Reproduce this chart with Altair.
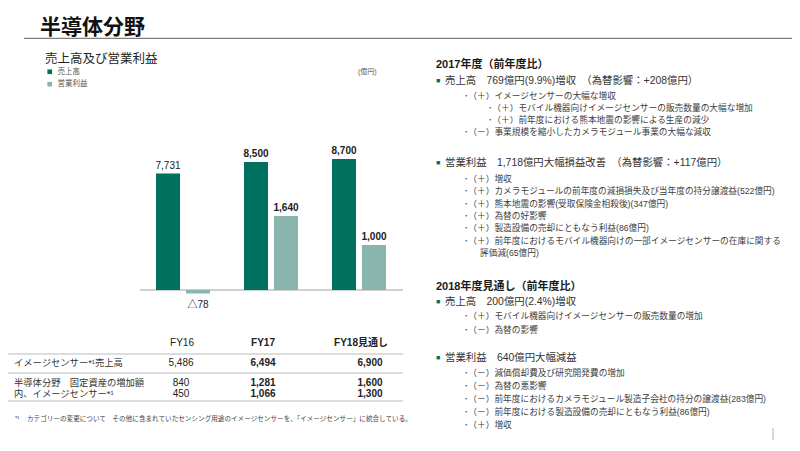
import altair as alt
import pandas as pd

# ---------------- data ----------------
YEARS = ["FY16", "FY17", "FY18"]
SERIES = ["売上高", "営業利益"]
SALES = [7731, 8500, 8700]
OP_INCOME = [-78, 1640, 1000]
SALES_LABELS = ["7,731", "8,500", "8,700"]
OP_LABELS = ["△78", "1,640", "1,000"]
EMPHASIS_YEARS = ["FY17", "FY18"]

TITLE = "半導体分野"
SUBTITLE = "売上高及び営業利益"
UNIT = "(億円)"

TABLE_HEADERS = ["FY16", "FY17", "FY18見通し"]
TABLE_ROWS = ["イメージセンサー*¹売上高", "半導体分野　固定資産の増加額", "内、イメージセンサー*¹"]
TABLE_FY16 = [5486, 840, 450]
TABLE_FY17 = [6494, 1281, 1066]
TABLE_FY18 = [6900, 1600, 1300]
FOOTNOTE_MARK = "*¹"
FOOTNOTE = "カテゴリーの変更について　その他に含まれていたセンシング用途のイメージセンサーを、「イメージセンサー」に統合している。"

RIGHT_LINES = [
    ("head", "2017年度（前年度比）"),
    ("bullet", "売上高　769億円(9.9%)増収　（為替影響：+208億円）"),
    ("sub1", "･（＋）イメージセンサーの大幅な増収"),
    ("sub2", "･（＋）モバイル機器向けイメージセンサーの販売数量の大幅な増加"),
    ("sub2", "･（＋）前年度における熊本地震の影響による生産の減少"),
    ("sub1", "･（－）事業規模を縮小したカメラモジュール事業の大幅な減収"),
    ("bullet", "営業利益　1,718億円大幅損益改善　（為替影響：+117億円）"),
    ("sub1", "･（＋）増収"),
    ("sub1", "･（＋）カメラモジュールの前年度の減損損失及び当年度の持分譲渡益(522億円)"),
    ("sub1", "･（＋）熊本地震の影響(受取保険金相殺後)(347億円)"),
    ("sub1", "･（＋）為替の好影響"),
    ("sub1", "･（＋）製造設備の売却にともなう利益(86億円)"),
    ("sub1", "･（＋）前年度におけるモバイル機器向けの一部イメージセンサーの在庫に関する"),
    ("cont", "評価減(65億円)"),
    ("head", "2018年度見通し（前年度比）"),
    ("bullet", "売上高　200億円(2.4%)増収"),
    ("sub1", "･（＋）モバイル機器向けイメージセンサーの販売数量の増加"),
    ("sub1", "･（－）為替の影響"),
    ("bullet", "営業利益　640億円大幅減益"),
    ("sub1", "･（－）減価償却費及び研究開発費の増加"),
    ("sub1", "･（－）為替の悪影響"),
    ("sub1", "･（－）前年度におけるカメラモジュール製造子会社の持分の譲渡益(283億円)"),
    ("sub1", "･（－）前年度における製造設備の売却にともなう利益(86億円)"),
    ("sub1", "･（＋）増収"),
]

# ---------------- layout / style ----------------
W, H = 784, 435
FONT = "Arial, 'Liberation Sans', 'Noto Sans CJK JP', sans-serif"
GREEN = "#00705F"
TEAL = "#8AB4AE"

RIGHT_Y = [57, 73, 88, 100, 112, 124, 155, 171, 183, 196, 208, 220, 233, 245,
           279, 294, 308, 322, 350, 365, 378, 391, 404, 417]
KIND_X = {"head": 428, "bullet": 437, "sub1": 456, "sub2": 480, "cont": 472}
KIND_STYLE = {"head": (11, "bold", "#1a1a1a"), "bullet": (10.4, "normal", "#333333"),
              "sub1": (8.7, "normal", "#404040"), "sub2": (8.7, "normal", "#404040"),
              "cont": (8.7, "normal", "#404040")}

TABLE_HEADER_Y = 335
TABLE_ROW_Y = [355, 375, 386]
TABLE_HEADER_X = [174, 255, 353]
TABLE_VALUE_X = [173, 255, 362]
TABLE_LABEL_X = 6
TABLE_LINES_Y = [346, 365, 393]

# ---------------- bar chart ----------------
bars_df = pd.DataFrame({
    "year": YEARS * 2,
    "series": [SERIES[0]] * len(YEARS) + [SERIES[1]] * len(YEARS),
    "value": SALES + OP_INCOME,
    "label": SALES_LABELS + OP_LABELS,
})
bars_df["emph"] = bars_df["year"].isin(EMPHASIS_YEARS)
sales_df = bars_df[bars_df["series"] == SERIES[0]]
op_df = bars_df[bars_df["series"] == SERIES[1]]


def xscale(rng):
    return alt.Scale(type="band", domain=YEARS, range=rng, paddingInner=0.727, paddingOuter=0)


SALES_X = xscale([148, 348])
OP_X = xscale([178, 378])
SALES_Y = alt.Scale(domain=[0, 10000], range=[282, 131.4], nice=False, zero=False)
OP_Y = alt.Scale(domain=[0, 2000], range=[282, 191.8], nice=False, zero=False)
COLOR = alt.Scale(domain=SERIES, range=[GREEN, TEAL])

legend = alt.Legend(orient="none", legendX=38, legendY=60, title=None, symbolType="square",
                    symbolSize=22, symbolStrokeWidth=0, labelFontSize=7.5, labelColor="#555555",
                    labelFont=FONT, rowPadding=3.5, labelOffset=4, padding=0)

baseline = alt.Chart(pd.DataFrame({"v": [0]})).mark_rule(color="#BFBFBF", strokeWidth=1.3).encode(
    y=alt.Y("v:Q", scale=SALES_Y, axis=None), x=alt.value(132), x2=alt.value(395))

sales_bars = alt.Chart(sales_df).mark_bar().encode(
    x=alt.X("year:N", scale=SALES_X, axis=None),
    y=alt.Y("value:Q", scale=SALES_Y, axis=None),
    color=alt.Color("series:N", scale=COLOR, legend=legend),
)
op_bars = alt.Chart(op_df).mark_bar().encode(
    x=alt.X("year:N", scale=OP_X, axis=None),
    y=alt.Y("value:Q", scale=OP_Y, axis=None),
    color=alt.Color("series:N", scale=COLOR, legend=None),
)


def value_labels(df, xs, ys):
    out = []
    for emph, weight in [(True, "bold"), (False, "normal")]:
        for below in [False, True]:
            cond = ("datum.emph" if emph else "!datum.emph") + (
                " && datum.value < 0" if below else " && datum.value >= 0")
            out.append(alt.Chart(df).transform_filter(cond).mark_text(
                font=FONT, fontSize=10, fontWeight=weight, color="#222222",
                baseline="top" if below else "alphabetic", dy=6 if below else -5,
            ).encode(x=alt.X("year:N", scale=xs, axis=None),
                     y=alt.Y("value:Q", scale=ys, axis=None),
                     text="label:N"))
    return out


# ---------------- text items ----------------
items = []


def add(text, x, y, size, weight="normal", align="left", color="#333333"):
    items.append(dict(text=text, x=x, y=y, size=size, weight=weight, align=align, color=color))


add(TITLE, 32, 20, 21, "bold", "left", "#111111")
add(SUBTITLE, 37, 51, 12.5, "normal", "left", "#222222")
add(UNIT, 350, 64, 7, "normal", "left", "#555555")

for i, h in enumerate(TABLE_HEADERS):
    add(h, TABLE_HEADER_X[i], TABLE_HEADER_Y, 10, "bold" if i > 0 else "normal", "center", "#222222")
for r, lab in enumerate(TABLE_ROWS):
    add(lab, TABLE_LABEL_X, TABLE_ROW_Y[r], 9.3, "normal", "left", "#333333")
    for c, col in enumerate([TABLE_FY16, TABLE_FY17, TABLE_FY18]):
        add(f"{col[r]:,}", TABLE_VALUE_X[c], TABLE_ROW_Y[r], 10,
            "bold" if c > 0 else "normal", "center", "#222222")
add(FOOTNOTE_MARK, 7, 410, 6, "normal", "left", "#444444")
add(FOOTNOTE, 19, 411, 6.6, "normal", "left", "#444444")

for (kind, text), y in zip(RIGHT_LINES, RIGHT_Y):
    size, weight, color = KIND_STYLE[kind]
    add(text, KIND_X[kind], y, size, weight, "left", color)
    if kind == "bullet":
        add("■", KIND_X["head"], y, 7, "normal", "left", GREEN)

items_df = pd.DataFrame(items)
text_layers = []
for (weight, align, color), g in items_df.groupby(["weight", "align", "color"]):
    text_layers.append(alt.Chart(g).mark_text(
        font=FONT, fontWeight=weight, align=align, baseline="middle", color=color
    ).encode(x=alt.X("x:Q", scale=None), y=alt.Y("y:Q", scale=None),
             size=alt.Size("size:Q", scale=None, legend=None), text="text:N"))

# ---------------- rules ----------------
rules_df = pd.DataFrame({
    "y": [30.3] + TABLE_LINES_Y,
    "x1": [16] + [0] * len(TABLE_LINES_Y),
    "x2": [784] + [395] * len(TABLE_LINES_Y),
    "c": ["#808080"] + ["#BBBBBB"] * len(TABLE_LINES_Y),
})
rules = alt.Chart(rules_df).mark_rule(strokeWidth=1.2).encode(
    y=alt.Y("y:Q", scale=None), x=alt.X("x1:Q", scale=None), x2="x2:Q",
    color=alt.Color("c:N", scale=None))
tick = alt.Chart(pd.DataFrame({"v": [0]})).mark_rule(color="#CCCCCC", strokeWidth=1.5).encode(
    x=alt.value(765), y=alt.value(420), y2=alt.value(432))

chart = alt.layer(
    rules, tick, baseline, sales_bars, op_bars,
    *value_labels(sales_df, SALES_X, SALES_Y),
    *value_labels(op_df, OP_X, OP_Y),
    *text_layers,
).resolve_scale(
    x="independent", y="independent", color="independent", size="independent"
).properties(
    width=W, height=H, padding=0, autosize=alt.AutoSizeParams(type="none"), background="white"
).configure_view(stroke=None)

chart.save("out.html", embed_options={"renderer": "svg", "actions": False})
